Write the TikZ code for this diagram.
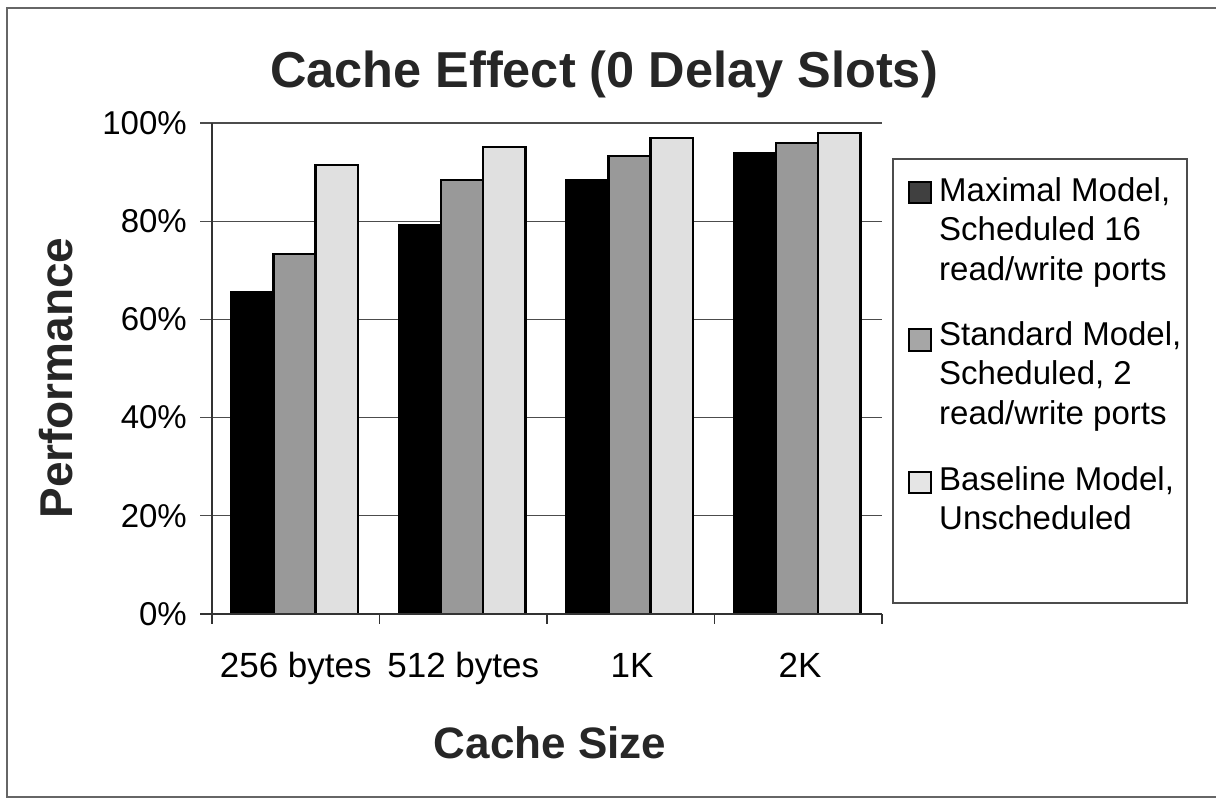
\documentclass[tikz,border=0pt]{standalone}
\usepackage{fontspec}
\setmainfont{Liberation Sans}

\begin{document}
\begin{tikzpicture}[x=1pt, y=-1pt,
  gridline/.style={black!70, line width=1.3pt},
  axisline/.style={black!80, line width=1.4pt},
  barmax/.style={fill=black, draw=black, line width=2pt},
  barstd/.style={fill=black!40, draw=black, line width=2.5pt},
  barbase/.style={fill=black!12, draw=black, line width=2.5pt},
  ticklabel/.style={font=\fontsize{33}{39.5}\selectfont, inner sep=0pt},
  axistitle/.style={font=\fontsize{46}{50}\selectfont\bfseries, text=black!85, inner sep=0pt},
  legendtext/.style={font=\fontsize{33}{39.5}\selectfont, align=left, inner sep=0pt, anchor=north west}]
\useasboundingbox (0,0) rectangle (1216,798);
% outer frame
\draw[black!60, line width=1.3pt] (1216,8) -- (7,8) -- (7,797) -- (1216,797);
% grid lines and y ticks
\draw[gridline] (200,123) -- (882,123);
\draw[gridline] (200,221.2) -- (882,221.2);
\draw[gridline] (200,319.4) -- (882,319.4);
\draw[gridline] (200,417.6) -- (882,417.6);
\draw[gridline] (200,515.8) -- (882,515.8);
% bars, 256 bytes
\draw[barmax] (231,614) rectangle (273.3,292);
\draw[barstd] (273.3,614) rectangle (315.6,254);
\draw[barbase] (315.6,614) rectangle (358,165);
% bars, 512 bytes
\draw[barmax] (398.5,614) rectangle (440.8,225);
\draw[barstd] (440.8,614) rectangle (483.1,180);
\draw[barbase] (483.1,614) rectangle (525.5,147);
% bars, 1K
\draw[barmax] (566,614) rectangle (608.3,180);
\draw[barstd] (608.3,614) rectangle (650.6,156);
\draw[barbase] (650.6,614) rectangle (693,138);
% bars, 2K
\draw[barmax] (733.5,614) rectangle (775.8,153);
\draw[barstd] (775.8,614) rectangle (818.1,143);
\draw[barbase] (818.1,614) rectangle (860.5,133);
% axes
\draw[axisline] (212,123) -- (212,624);
\draw[axisline] (200,614) -- (882,614);
\draw[axisline] (379.5,614) -- (379.5,624);
\draw[axisline] (547,614) -- (547,624);
\draw[axisline] (714.5,614) -- (714.5,624);
\draw[axisline] (882,614) -- (882,624);
% y tick labels
\node[ticklabel, anchor=east] (y100) at (187,123) {100\%};
\node[ticklabel, anchor=east] (y80) at (187,221.2) {80\%};
\node[ticklabel, anchor=east] (y60) at (187,319.4) {60\%};
\node[ticklabel, anchor=east] (y40) at (187,417.6) {40\%};
\node[ticklabel, anchor=east] (y20) at (187,515.8) {20\%};
\node[ticklabel, anchor=east] (y0) at (187,614) {0\%};
% x tick labels
\node[ticklabel, font=\fontsize{35}{40}\selectfont, anchor=base] (x256) at (295.75,677) {256 bytes};
\node[ticklabel, font=\fontsize{35}{40}\selectfont, anchor=base] (x512) at (463.25,677) {512 bytes};
\node[ticklabel, font=\fontsize{35}{40}\selectfont, anchor=base] (x1k) at (632,677) {1K};
\node[ticklabel, font=\fontsize{35}{40}\selectfont, anchor=base] (x2k) at (800,677) {2K};
% titles
\node[axistitle, font=\fontsize{50.5}{56}\selectfont\bfseries, anchor=base] (title) at (604,87) {Cache Effect (0 Delay Slots)};
\node[axistitle, font=\fontsize{44}{48}\selectfont\bfseries, anchor=base] (xtitle) at (550,758) {Cache Size};
\node[axistitle, rotate=90] (ytitle) at (56,378) {Performance};
% legend
\draw[black!70, line width=1.2pt] (893,159) rectangle (1187,603);
\draw[fill=black!75, draw=black, line width=1.5pt] (909,182) rectangle (931,203);
\draw[fill=black!35, draw=black, line width=1.5pt] (909,329) rectangle (931,351);
\draw[fill=black!10, draw=black, line width=1.5pt] (909,472) rectangle (931,493);
\node[legendtext] (legmax) at (939,177) {Maximal Model,\\Scheduled 16\\read/write ports};
\node[legendtext] (legstd) at (939,321) {Standard Model,\\Scheduled, 2\\read/write ports};
\node[legendtext] (legbase) at (939,466) {Baseline Model,\\Unscheduled};
\end{tikzpicture}
\end{document}
